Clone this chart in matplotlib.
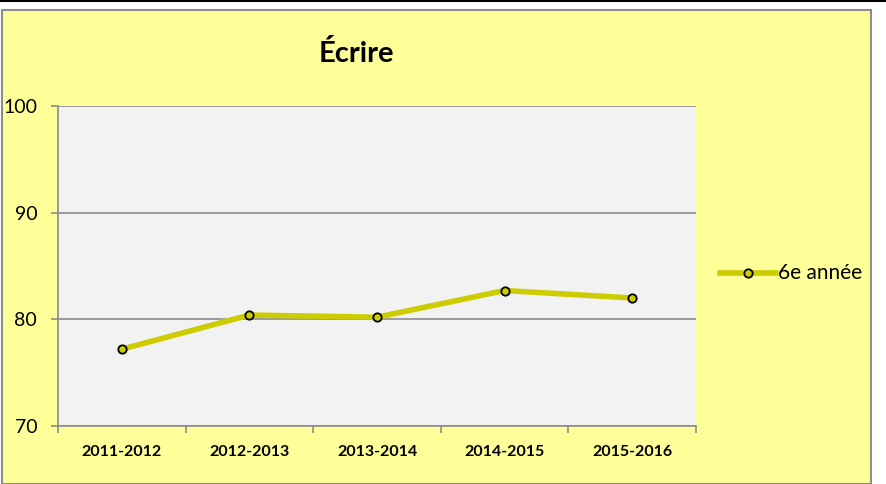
import matplotlib
matplotlib.use("Agg")
import matplotlib.pyplot as plt
from matplotlib.patches import Rectangle
from matplotlib.lines import Line2D
import numpy as np

categories = ["2011-2012", "2012-2013", "2013-2014", "2014-2015", "2015-2016"]
values = [77.2, 80.4, 80.2, 82.7, 82.0]
series_name = "6e année"
title = "Écrire"
yticks = [70, 80, 90, 100]

plt.rcParams['font.family'] = ['Lato', 'DejaVu Sans']

W, H = 886, 484
fig = plt.figure(figsize=(W/100, H/100), dpi=100)
fig.patch.set_facecolor("white")

# chart area panel
panel = Rectangle((2/W, 0), (871-2)/W, (H-10)/H, transform=fig.transFigure,
                  facecolor="#FFFF99", edgecolor="#8C8C8C", linewidth=1.5, zorder=-5)
fig.patches.append(panel)
fig.add_artist(Line2D([0, 1], [1-1/H, 1-1/H], transform=fig.transFigure, color="black", linewidth=1.5))

ax = fig.add_axes([58/W, 58/H, 638/W, 320/H])
ax.set_zorder(1)
ax.set_facecolor("#F2F2F2")
x = np.arange(len(categories))
ax.plot(x, values, color="#CCCC00", linewidth=4, marker="o", markersize=6,
        markerfacecolor="#CCCC00", markeredgecolor="black", markeredgewidth=1.3,
        solid_joinstyle="round", zorder=3, clip_on=False)

ax.set_xlim(-0.5, len(categories)-0.5)
ax.set_ylim(70, 100)
ax.set_yticks(yticks)
ax.set_yticklabels([str(t) for t in yticks], fontsize=14)
ax.yaxis.grid(True, color="#8C8C8C", linewidth=1.2)
ax.set_axisbelow(True)
ax.set_xticks(x)
ax.set_xticklabels(categories, fontsize=11.5, fontweight="bold")
ax.set_xticks(np.arange(-0.5, len(categories)), minor=True)
ax.tick_params(axis="x", which="major", length=0, pad=14)
ax.tick_params(axis="x", which="minor", length=5, color="#8C8C8C", width=1.2)
ax.tick_params(axis="y", length=5, color="#8C8C8C", width=1.2, pad=10)
for s in ["top", "right"]:
    ax.spines[s].set_visible(False)
for s in ["left", "bottom"]:
    ax.spines[s].set_color("#8C8C8C")
    ax.spines[s].set_linewidth(1.2)

fig.text(356/W, 1-53/H, title, fontsize=21, fontweight="bold", ha="center", va="center")

# legend
fig.add_artist(Line2D([720/W, 776/W], [1-273/H, 1-273/H], transform=fig.transFigure,
                      color="#CCCC00", linewidth=4))
fig.add_artist(Line2D([748/W], [1-273/H], transform=fig.transFigure, marker="o", markersize=6,
                      markerfacecolor="#CCCC00", markeredgecolor="black", markeredgewidth=1.3,
                      linestyle="none"))
fig.text(778/W, 1-273/H, series_name, fontsize=15, ha="left", va="center")

fig.savefig("out.png", dpi=100, facecolor=fig.get_facecolor())
